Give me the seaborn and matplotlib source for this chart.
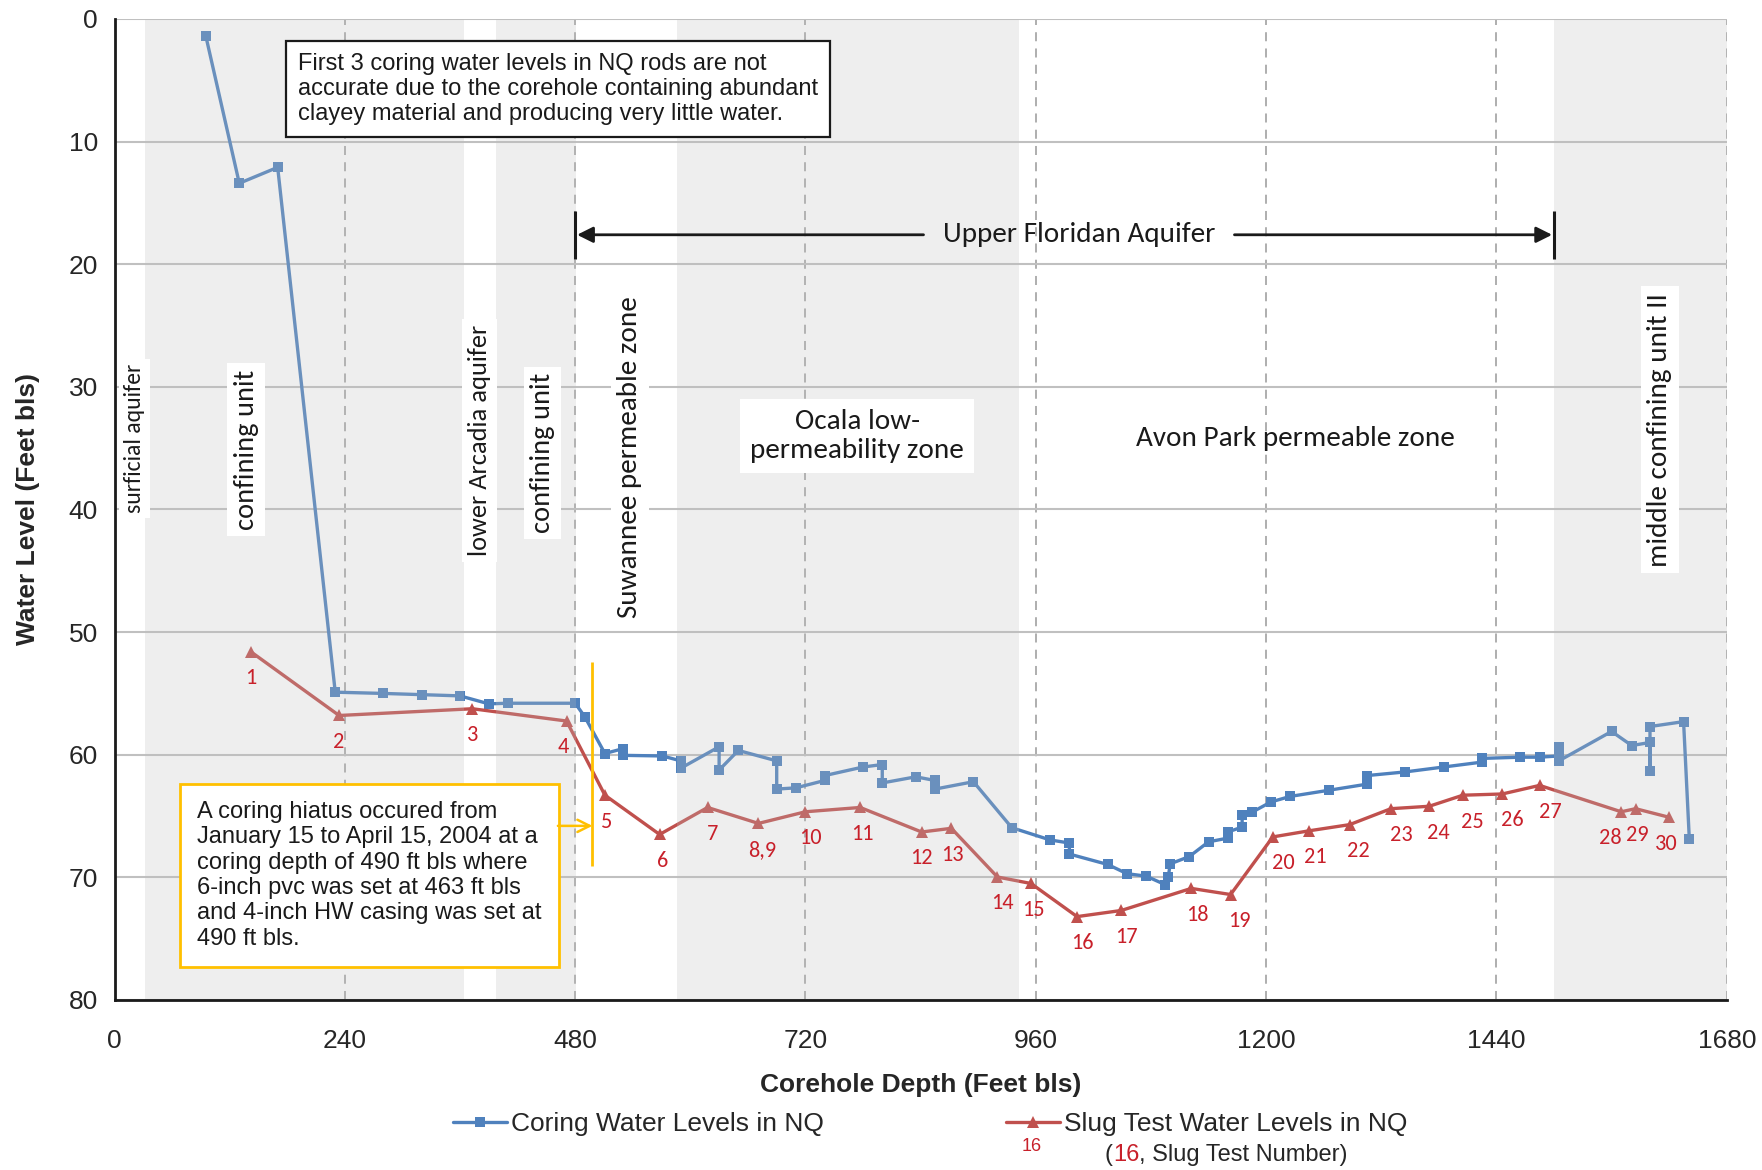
import matplotlib
matplotlib.use("Agg")
import matplotlib.pyplot as plt
import pandas as pd
import seaborn as sns
from matplotlib import font_manager

# Coring water levels measured in the NQ rods while drilling
coring_depth = [95, 130, 170, 230, 280, 320, 360, 390, 410, 480, 490, 511, 530, 530,
                571, 590, 590, 630, 630, 650, 690, 690, 710, 740, 740, 780, 800, 800,
                835, 855, 855, 895, 935, 975, 995, 995, 1035, 1055, 1075, 1095, 1098,
                1100, 1120, 1140, 1160, 1160, 1175, 1175, 1185, 1205, 1225, 1265, 1305,
                1305, 1345, 1385, 1425, 1425, 1465, 1485, 1505, 1505, 1505, 1560, 1581,
                1600, 1600, 1600, 1635, 1641]
coring_level = [1.35, 13.4, 12.1, 54.9, 55.0, 55.1, 55.2, 55.85, 55.8, 55.8, 56.9, 59.9,
                59.5, 60.05, 60.1, 60.5, 61.1, 59.35, 61.25, 59.65, 60.5, 62.8, 62.7, 62.1,
                61.7, 61.0, 60.8, 62.3, 61.8, 62.1, 62.8, 62.2, 65.95, 66.95, 67.2, 68.1,
                68.95, 69.7, 69.9, 70.6, 70.0, 68.9, 68.3, 67.1, 66.8, 66.3, 65.9, 64.9,
                64.7, 63.85, 63.4, 62.9, 62.4, 61.7, 61.4, 61.0, 60.6, 60.3, 60.2, 60.2,
                60.1, 59.4, 60.5, 58.1, 59.25, 59.0, 61.35, 57.7, 57.3, 66.9]

# Slug test water levels and their test numbers
slug_depth = [142, 234, 373, 471, 511, 568, 618, 671, 720, 777, 841, 872, 920, 955,
              1003, 1049, 1122, 1163, 1207, 1245, 1287, 1330, 1370, 1405, 1446, 1485,
              1570, 1585, 1620]
slug_level = [51.6, 56.8, 56.25, 57.25, 63.3, 66.5, 64.3, 65.6, 64.65, 64.3, 66.3, 66.0,
              69.97, 70.5, 73.2, 72.7, 70.9, 71.4, 66.7, 66.2, 65.7, 64.4, 64.2, 63.3,
              63.2, 62.5, 64.65, 64.4, 65.1]
slug_numbers = ["1", "2", "3", "4", "5", "6", "7", "8,9", "10", "11", "12", "13", "14",
                "15", "16", "17", "18", "19", "20", "21", "22", "23", "24", "25", "26",
                "27", "28", "29", "30"]
# horizontal nudge of each test number (points)
slug_label_dx = [0, 0, 0, -2.5, 1, 2, 3.5, 3, 3.5, 1.5, 0, 1, 3.5, 2, 3.5, 3.5, 4.5, 6,
                 7.5, 4.5, 6, 7.5, 6.5, 6.5, 7.5, 8, -7.5, 1.5, -2]

# Hydrogeologic units shaded along the corehole (ft bls)
shaded_units = [(32, 364), (398, 481), (586, 943), (1500, 1680)]

x_ticks = [0, 240, 480, 720, 960, 1200, 1440, 1680]
y_ticks = [0, 10, 20, 30, 40, 50, 60, 70, 80]

BLUE = "#4F81BD"
RED = "#C0504D"
NUM_RED = "#C8202A"
YELLOW = "#FFC000"
INK = "#1a1a1a"

sns.set_style("white")
installed = {f.name for f in font_manager.fontManager.ttflist}
ARIAL = ["Liberation Sans", "DejaVu Sans"]
CAL = [f for f in ["Carlito", "Lato", "Open Sans"] if f in installed] + ["DejaVu Sans"]
plt.rcParams["font.family"] = ARIAL

fig = plt.figure(figsize=(17.62, 11.70), dpi=100)
ax = fig.add_axes([0.065, 0.1453, 0.915, 0.8385])

coring = pd.DataFrame({"depth": coring_depth, "level": coring_level})
slug = pd.DataFrame({"depth": slug_depth, "level": slug_level})

sns.lineplot(data=coring, x="depth", y="level", sort=False, estimator=None,
             color=BLUE, lw=2.4, marker="s", markersize=7, markeredgewidth=0,
             label="Coring Water Levels in NQ", ax=ax, zorder=2)
sns.lineplot(data=slug, x="depth", y="level", sort=False, estimator=None,
             color=RED, lw=2.4, marker="^", markersize=9, markeredgewidth=0,
             label="Slug Test Water Levels in NQ", ax=ax, zorder=2)

# translucent unit shading sits over the data, as in the source figure
for a, b in shaded_units:
    ax.axvspan(a, b, color="#bdbdbd", alpha=0.25, lw=0, zorder=3)

for x, y, lab, dx in zip(slug_depth, slug_level, slug_numbers, slug_label_dx):
    ax.annotate(lab, (x, y), xytext=(dx, -19), textcoords="offset points",
                ha="center", va="center", color=NUM_RED, fontsize=16,
                family=CAL, zorder=6)

ax.set_xlim(0, 1680)
ax.set_ylim(80, 0)
ax.set_xticks(x_ticks)
ax.set_yticks(y_ticks)
ax.set_axisbelow(True)
ax.yaxis.grid(True, color="#c0c0c0", lw=1.5, ls="-")
ax.xaxis.grid(True, color="#a8a8a8", lw=1.3, ls=(0, (5, 4)))
for s in ["top", "right"]:
    ax.spines[s].set_visible(False)
for s in ["left", "bottom"]:
    ax.spines[s].set_color(INK)
    ax.spines[s].set_linewidth(2)
    ax.spines[s].set_zorder(7)
ax.tick_params(axis="x", direction="out", length=7, width=1.5, color=INK,
               pad=14, labelsize=19, labelcolor="#262626")
ax.tick_params(axis="y", direction="out", length=6, width=1.5, color=INK,
               pad=6, labelsize=19, labelcolor="#262626")
ax.set_xlabel("Corehole Depth (Feet bls)", fontsize=19, fontweight="bold",
              color="#262626")
ax.set_ylabel("Water Level (Feet bls)", fontsize=19, fontweight="bold",
              color="#262626")
ax.xaxis.set_label_coords(0.5, -0.0744)
ax.yaxis.set_label_coords(-0.046, 0.5)

# unit names
white = dict(boxstyle="square,pad=0.22", fc="white", ec="none")
vert_units = [("surficial aquifer", 21, 34.2, 17),
              ("confining unit", 137, 35.1, 20.5),
              ("lower Arcadia aquifer", 380, 34.4, 19),
              ("confining unit", 446, 35.4, 20.5),
              ("Suwannee permeable zone", 537, 35.7, 21),
              ("middle confining unit II", 1610, 33.5, 21)]
for txt, x, y, fs in vert_units:
    ax.text(x, y, txt, rotation=90, ha="center", va="center", fontsize=fs,
            family=CAL, color=INK, bbox=white, zorder=5)
ax.text(774, 34.0, "Ocala low-\npermeability zone", ha="center", va="center",
        fontsize=21, family=CAL, color=INK, linespacing=1.2,
        bbox=dict(boxstyle="square,pad=0.35", fc="white", ec="none"), zorder=5)
ax.text(1231, 34.2, "Avon Park permeable zone", ha="center", va="center",
        fontsize=21, family=CAL, color=INK, zorder=5)

# Upper Floridan Aquifer extent
ax.text(1005, 17.6, "Upper Floridan Aquifer", ha="center", va="center", fontsize=21,
        family=CAL, color=INK, zorder=5)
arrow = dict(arrowstyle="-|>", color=INK, lw=2, mutation_scale=24,
             shrinkA=0, shrinkB=0)
ax.annotate("", xy=(482, 17.6), xytext=(843, 17.6), arrowprops=arrow, zorder=5)
ax.annotate("", xy=(1498, 17.6), xytext=(1167, 17.6), arrowprops=arrow, zorder=5)
ax.vlines([480, 1500], 15.7, 19.6, color=INK, lw=2.2, zorder=5)

# notes
ax.text(191, 2.75, "First 3 coring water levels in NQ rods are not\n"
        "accurate due to the corehole containing abundant\n"
        "clayey material and producing very little water.",
        ha="left", va="top", fontsize=17, color=INK, linespacing=1.18,
        bbox=dict(boxstyle="square,pad=0.5", fc="white", ec=INK, lw=1.6),
        zorder=5)
ax.text(86, 63.75, "A coring hiatus occured from\nJanuary 15 to April 15, 2004 at a\n"
        "coring depth of 490 ft bls where\n6-inch pvc was set at 463 ft bls\n"
        "and 4-inch HW casing was set at\n490 ft bls.",
        ha="left", va="top", fontsize=17, color=INK, linespacing=1.2,
        bbox=dict(boxstyle="square,pad=0.72", fc="white", ec=YELLOW, lw=2),
        zorder=5)
ax.vlines(498, 52.4, 69.1, color=YELLOW, lw=2, zorder=5)
ax.annotate("", xy=(498, 65.8), xytext=(462, 65.8),
            arrowprops=dict(arrowstyle="->", color=YELLOW, lw=1.8,
                            mutation_scale=22, shrinkA=0, shrinkB=0), zorder=5)

# legend
handles, labels = ax.get_legend_handles_labels()
ax.get_legend().remove()
fig.legend(handles, labels, loc="center", bbox_to_anchor=(0.528, 0.039), ncol=2,
           frameon=False, fontsize=19, handlelength=2.05, handletextpad=0.15,
           columnspacing=6.9, labelcolor="#262626")
fig.text(0.5855, 0.0205, "16", ha="center", va="center", color=NUM_RED, fontsize=13)
t1 = fig.text(0.627, 0.0128, "(", ha="left", va="center", fontsize=17,
              color="#262626")
t2 = ax.annotate("16", xy=(1, 0), xycoords=t1, va="bottom", ha="left",
                 fontsize=17, color=NUM_RED, annotation_clip=False)
ax.annotate(", Slug Test Number)", xy=(1, 0), xycoords=t2, va="bottom", ha="left",
            fontsize=17, color="#262626", annotation_clip=False)

fig.savefig("out.png", dpi=100)
